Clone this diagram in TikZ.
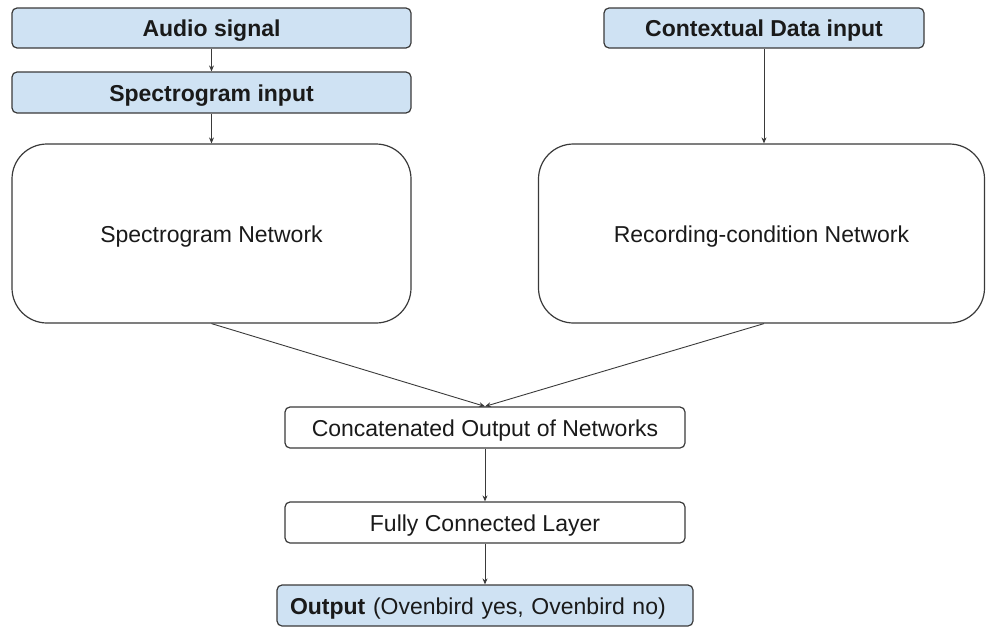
\documentclass[tikz,border=0pt]{standalone}
\usepackage{fontspec}
\setmainfont{Liberation Sans}
\usetikzlibrary{arrows.meta,calc}
\definecolor{boxblue}{HTML}{CFE2F3}
\definecolor{edge}{HTML}{3A3A3A}
\definecolor{txt}{HTML}{1A1A1A}
\begin{document}
\begin{tikzpicture}[x=1pt,y=1pt,
  every node/.style={font=\fontsize{23}{27}\selectfont, text=txt, text height=19pt, text depth=2pt},
  inbox/.style={draw=edge, line width=1.2pt, fill=boxblue, rounded corners=5pt, inner sep=0pt, font=\fontsize{23}{27}\selectfont\bfseries},
  plainbox/.style={draw=edge, line width=1.2pt, fill=white, rounded corners=5pt, inner sep=0pt},
  netbox/.style={draw=edge, line width=1.2pt, fill=white, rounded corners=35pt, inner sep=0pt},
  conn/.style={draw=edge, line width=0.9pt, -{Stealth[length=6pt,width=5pt]}}
]
\useasboundingbox (0,0) rectangle (986,-629);
\node[inbox, minimum width=399, minimum height=40] (audio) at (211.5,-28) {Audio signal};
\node[inbox, minimum width=399, minimum height=41] (specin) at (211.5,-92.5) {Spectrogram input};
\node[netbox, minimum width=399, minimum height=179] (specnet) at (211.5,-233.5) {Spectrogram Network};
\node[inbox, minimum width=320, minimum height=40] (ctx) at (764,-28) {Contextual Data input};
\node[netbox, minimum width=446, minimum height=179] (recnet) at (761.5,-233.5) {Recording-condition Network};
\node[plainbox, minimum width=400, minimum height=41] (concat) at (485,-427.5) {Concatenated Output of Networks};
\node[plainbox, minimum width=400, minimum height=41] (fc) at (485,-522.5) {Fully Connected Layer};
\node[plainbox, fill=boxblue, minimum height=41, inner xsep=13pt, text width=390pt, align=left] (out) at (485,-605.5) {\textbf{Output} (Ovenbird yes, Ovenbird no)};
\draw[conn] (audio) -- (specin);
\draw[conn] (specin) -- (specnet);
\draw[conn] (ctx.south) -- (ctx.south |- recnet.north);
\draw[conn] (specnet.south) -- (concat.north);
\draw[conn] (ctx.south |- recnet.south) -- (concat.north);
\draw[conn] (concat) -- (fc);
\draw[conn] (fc) -- (out);
\end{tikzpicture}
\end{document}
